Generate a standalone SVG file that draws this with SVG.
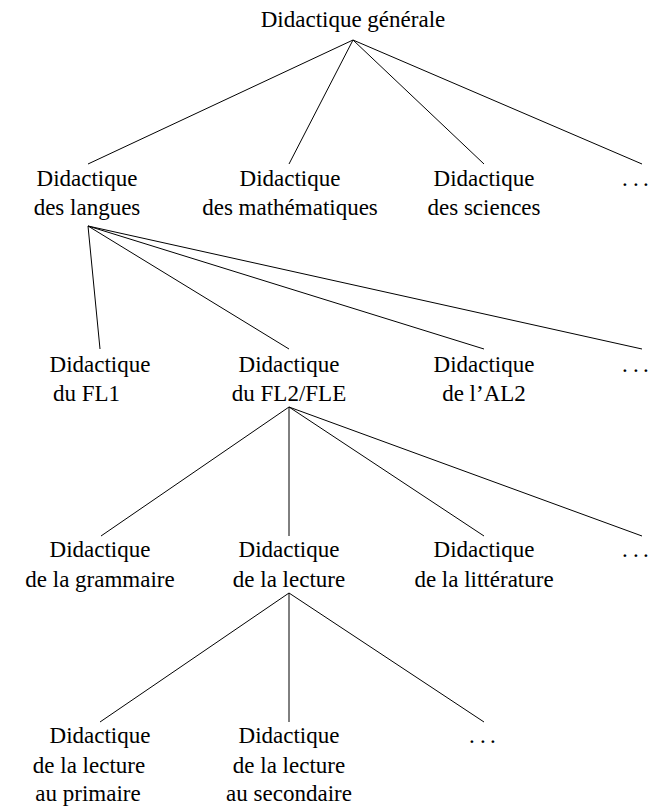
<svg xmlns="http://www.w3.org/2000/svg" width="650" height="807" viewBox="0 0 650 807">
<style>
text{font-family:"Liberation Serif","Times New Roman",serif;font-size:23px;fill:#000}
.c{text-anchor:middle}
line{stroke:#000;stroke-width:1}
</style>
<rect width="650" height="807" fill="#fff"/>
<g id="connectors">
<line x1="353" y1="40" x2="88" y2="164"/>
<line x1="353" y1="40" x2="289" y2="164"/>
<line x1="353" y1="40" x2="484" y2="164"/>
<line x1="353" y1="40" x2="642" y2="164"/>
<line x1="88" y1="226" x2="100" y2="349"/>
<line x1="88" y1="226" x2="289" y2="349"/>
<line x1="88" y1="226" x2="484" y2="349"/>
<line x1="88" y1="226" x2="642" y2="349"/>
<line x1="289" y1="407" x2="101" y2="536"/>
<line x1="289" y1="407" x2="289" y2="536"/>
<line x1="289" y1="407" x2="484" y2="536"/>
<line x1="289" y1="407" x2="642" y2="536"/>
<line x1="289" y1="593" x2="100" y2="722"/>
<line x1="289" y1="593" x2="289" y2="722"/>
<line x1="289" y1="593" x2="484" y2="722"/>
</g>
<g id="n-generale"><text class="c" x="353" y="27">Didactique générale</text></g>
<g id="n-langues"><text class="c" x="87" y="186">Didactique</text><text class="c" x="87" y="215">des langues</text></g>
<g id="n-maths"><text class="c" x="290" y="186">Didactique</text><text class="c" x="290" y="215">des mathématiques</text></g>
<g id="n-sciences"><text class="c" x="484" y="186">Didactique</text><text class="c" x="484" y="215">des sciences</text></g>
<g id="n-etc1"><text x="622 633 643" y="186">...</text></g>
<g id="n-fl1"><text class="c" x="100" y="372">Didactique</text><text x="53" y="401">du FL1</text></g>
<g id="n-fl2"><text class="c" x="289" y="372">Didactique</text><text class="c" x="289" y="401">du FL2/FLE</text></g>
<g id="n-al2"><text class="c" x="484" y="372">Didactique</text><text class="c" x="484" y="401">de l’AL2</text></g>
<g id="n-etc2"><text x="622 633 643" y="372">...</text></g>
<g id="n-grammaire"><text class="c" x="100" y="557">Didactique</text><text class="c" x="100" y="587">de la grammaire</text></g>
<g id="n-lecture"><text class="c" x="289" y="557">Didactique</text><text class="c" x="289" y="587">de la lecture</text></g>
<g id="n-litterature"><text class="c" x="484" y="557">Didactique</text><text class="c" x="484" y="587">de la littérature</text></g>
<g id="n-etc3"><text x="622 633 643" y="557">...</text></g>
<g id="n-primaire"><text class="c" x="100" y="743">Didactique</text><text class="c" x="89" y="773">de la lecture</text><text class="c" x="88" y="801">au primaire</text></g>
<g id="n-secondaire"><text class="c" x="289" y="743">Didactique</text><text class="c" x="289" y="773">de la lecture</text><text class="c" x="289" y="801">au secondaire</text></g>
<g id="n-etc4"><text x="469 480 490" y="743">...</text></g>
</svg>
